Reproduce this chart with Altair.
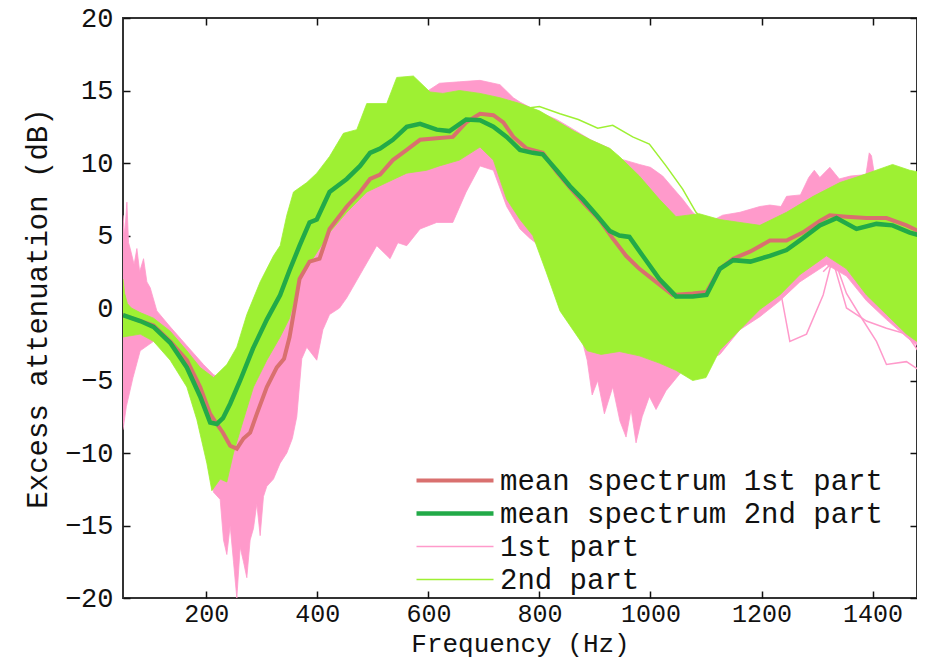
import altair as alt
import pandas as pd

# ---------------- data ----------------
# mean spectrum 1st part (red)
rm_f = [50, 105, 135, 165, 189, 207, 219, 230, 243, 255, 267, 279, 291, 309, 327, 340, 350, 368, 386, 404,
        422, 453, 477, 495, 513, 536, 561, 585, 615, 644, 668, 693, 717, 735, 753, 777, 806, 831, 855, 878,
        908, 932, 956, 980, 1010, 1040, 1076, 1101, 1125, 1149, 1180, 1215, 1245, 1274, 1305, 1323, 1353,
        1389, 1425, 1461, 1494]
rm_v = [-0.5, -1.2, -2.3, -3.6, -5.45, -7.3, -8.0, -8.6, -9.5, -9.7, -9.0, -8.6, -7.3, -5.45, -4.1, -3.5,
        -2.0, 2.0, 3.2, 3.4, 5.45, 7.0, 8.0, 8.9, 9.2, 10.2, 10.9, 11.6, 11.7, 11.8, 12.8, 13.4, 13.3, 12.8,
        11.8, 11.0, 10.7, 9.4, 8.3, 7.3, 6.1, 4.8, 3.6, 2.7, 1.8, 0.9, 1.0, 1.1, 2.7, 3.4, 3.9, 4.65, 4.65,
        5.2, 6.0, 6.4, 6.3, 6.2, 6.2, 5.7, 5.1]

# mean spectrum 2nd part (green)
gm_f = [50, 81, 105, 135, 165, 189, 207, 219, 230, 243, 261, 284, 309, 333, 350, 368, 386, 399, 422, 453,
        477, 495, 513, 536, 561, 585, 615, 638, 668, 693, 717, 741, 765, 788, 806, 831, 855, 878, 903, 927,
        944, 962, 986, 1016, 1046, 1076, 1101, 1125, 1149, 1180, 1215, 1245, 1274, 1305, 1335, 1371, 1407,
        1436, 1467, 1494]
gm_v = [-0.5, -0.9, -1.3, -2.4, -4.1, -6.1, -7.9, -8.0, -7.6, -6.6, -5.0, -2.8, -0.8, 0.9, 2.6, 4.3, 5.9,
        6.1, 8.0, 8.9, 9.8, 10.7, 11.0, 11.6, 12.5, 12.7, 12.3, 12.2, 13.0, 12.95, 12.5, 11.8, 10.9, 10.7,
        10.6, 9.5, 8.4, 7.5, 6.4, 5.3, 5.0, 4.9, 3.6, 2.0, 0.8, 0.8, 0.9, 2.7, 3.3, 3.2, 3.6, 4.0, 4.8, 5.7,
        6.2, 5.45, 5.8, 5.7, 5.2, 4.9]

# envelope of the individual 1st-part spectra (pink)
pu_f = [50, 53, 57, 60, 63, 70, 75, 80, 87, 93, 99, 111, 135, 165, 195, 213, 237, 255, 273, 300, 333, 360,
        400, 450, 500, 550, 600, 620, 656, 693, 729, 753, 765, 800, 831, 862, 892, 927, 944, 980, 1000, 1022,
        1040, 1058, 1076, 1088, 1110, 1130, 1161, 1197, 1215, 1235, 1245, 1270, 1285, 1295, 1305, 1323, 1340,
        1360, 1388, 1394, 1398, 1403, 1436, 1494]
pu_v = [6.4, 5.0, 7.3, 4.5, 4.1, 3.0, 4.1, 2.5, 3.4, 1.8, 1.4, -0.2, -1.3, -2.6, -3.9, -4.6, -5.0, -4.0,
        -2.0, 0.0, 2.5, 5.0, 7.5, 10.0, 11.5, 13.0, 15.0, 15.5, 15.6, 15.7, 15.4, 14.5, 14.2, 13.5, 13.0,
        12.3, 11.6, 11.0, 10.3, 9.9, 9.7, 9.1, 8.3, 7.5, 6.6, 6.2, 6.0, 6.4, 6.6, 7.0, 7.1, 7.0, 7.7, 7.8,
        9.0, 9.5, 9.0, 9.7, 8.9, 9.1, 9.2, 10.7, 10.5, 9.3, 9.4, 9.3]
pl_f = [50, 56, 68, 81, 105, 135, 165, 183, 201, 213, 225, 231, 237, 243, 249, 255, 261, 267, 273, 279,
        285, 291, 297, 303, 309, 321, 333, 345, 355, 363, 372, 381, 399, 410, 422, 440, 453, 483, 507, 531,
        545, 561, 585, 615, 644, 668, 693, 717, 741, 765, 783, 800, 825, 850, 874, 886, 895, 905, 917, 932,
        945, 956, 965, 974, 985, 998, 1010, 1028, 1058, 1088, 1125, 1161, 1197, 1233, 1269, 1317, 1353, 1389,
        1425, 1461, 1494]
pl_v = [-8.4, -6.8, -4.8, -2.95, -2.3, -3.3, -5.0, -7.2, -10.0, -12.7, -13.2, -16.0, -17.0, -15.0, -17.5,
        -20.0, -16.5, -17.5, -18.6, -16.0, -15.2, -13.5, -15.7, -13.0, -12.3, -11.8, -10.7, -10.0, -9.0,
        -7.5, -3.5, -2.7, -3.6, -1.5, -0.45, 0.0, 0.7, 2.7, 4.3, 3.4, 4.5, 4.3, 5.45, 5.9, 5.9, 8.0, 9.8,
        9.5, 7.0, 5.45, 4.8, 4.3, 1.6, -0.45, -1.8, -3.6, -6.0, -5.0, -7.3, -5.45, -7.8, -8.9, -7.0, -9.3,
        -7.5, -6.1, -7.0, -5.7, -4.3, -3.9, -3.2, -1.5, -0.6, 0.5, 1.8, 3.0, 2.2, 0.5, -0.8, -2.0, -3.0]

# envelope of the individual 2nd-part spectra (light green)
gu_f = [50, 53, 58, 65, 80, 105, 135, 165, 189, 213, 237, 255, 273, 297, 321, 333, 345, 357, 381, 399, 422,
        447, 471, 489, 525, 543, 573, 603, 626, 656, 693, 729, 765, 800, 831, 862, 892, 927, 944, 980, 1016,
        1046, 1088, 1125, 1161, 1197, 1245, 1293, 1341, 1377, 1436, 1467, 1494]
gu_v = [2.0, 1.0, 0.3, 0.0, -0.3, -0.7, -1.6, -2.95, -4.1, -4.8, -3.9, -2.7, -0.45, 1.8, 3.6, 4.3, 6.4,
        8.0, 8.65, 9.3, 10.45, 12.05, 12.3, 14.1, 14.1, 15.9, 16.0, 14.9, 14.8, 15.0, 14.8, 14.5, 14.1, 13.6,
        12.9, 12.2, 11.6, 11.0, 10.45, 9.1, 7.5, 6.3, 6.5, 6.1, 5.9, 5.7, 6.6, 7.7, 8.65, 9.1, 9.9, 9.5, 9.3]
gl_f = [50, 81, 105, 135, 165, 183, 201, 210, 225, 237, 249, 267, 285, 309, 333, 350, 368, 392, 422, 453,
        489, 525, 561, 597, 620, 656, 693, 717, 741, 765, 788, 812, 837, 862, 886, 911, 944, 980, 1016, 1046,
        1076, 1100, 1125, 1161, 1197, 1233, 1269, 1317, 1353, 1389, 1425, 1461, 1494]
gl_v = [-2.0, -1.8, -2.3, -3.6, -5.45, -7.7, -10.7, -12.6, -11.8, -12.0, -10.0, -7.7, -5.45, -3.6, -2.0,
        -0.7, 2.0, 3.4, 5.2, 6.6, 8.0, 8.65, 9.3, 9.5, 9.8, 10.2, 11.1, 10.2, 7.5, 6.1, 5.0, 2.5, -0.2,
        -1.6, -2.95, -3.2, -3.0, -3.3, -3.8, -4.3, -5.0, -4.8, -2.9, -1.5, -0.1, 0.9, 2.3, 3.6, 2.7, 0.9,
        -0.45, -1.8, -2.7]

# single spectra that stand out of the bands
pA_f = [1197, 1233, 1251, 1281, 1311, 1329, 1353, 1377, 1407, 1425, 1461, 1485, 1494]
pA_v = [0.5, 1.4, -2.3, -1.8, 0.9, 3.6, 1.0, -0.5, -2.3, -3.9, -3.7, -4.3, -6.3]
pB_f = [1311, 1329, 1353, 1389, 1425, 1461, 1494]
pB_v = [2.5, 3.2, 0.0, -0.9, -1.4, -1.8, -3.6]
gO_f = [780, 800, 837, 870, 905, 932, 968, 998, 1028, 1058, 1082, 1100]
gO_v = [13.8, 13.9, 13.4, 13.0, 12.4, 12.6, 11.8, 11.3, 9.8, 8.2, 6.6, 5.9]

SERIES = ["mean spectrum 1st part", "mean spectrum 2nd part", "1st part", "2nd part"]
COLORS = ["#d9706f", "#22aa48", "#ff9acb", "#9ef033"]
WIDTHS = [4, 4.5, 1.5, 1.5]
XT = [200, 400, 600, 800, 1000, 1200, 1400]
YT = [-20, -15, -10, -5, 0, 5, 10, 15, 20]


def band(f_hi, v_hi, f_lo, v_lo):
    rows = []
    for f, v in zip(f_hi, v_hi):
        rows.append({"f": f, "v": v, "idx": len(rows)})
    for f, v in zip(reversed(f_lo), reversed(v_lo)):
        rows.append({"f": f, "v": v, "idx": len(rows)})
    return pd.DataFrame(rows)


def line(f, v, series, lid):
    return pd.DataFrame({"f": f, "v": v, "series": series, "line": lid})


pink_band = band(pu_f, pu_v, pl_f, pl_v)
green_band = band(gu_f, gu_v, gl_f, gl_v)
pink_lines = pd.concat([line(pA_f, pA_v, "1st part", "a"), line(pB_f, pB_v, "1st part", "b")])
green_lines = line(gO_f, gO_v, "2nd part", "c")
mean1 = line(rm_f, rm_v, "mean spectrum 1st part", "m1")
mean2 = line(gm_f, gm_v, "mean spectrum 2nd part", "m2")

W, H = 794, 580
FONT = "Liberation Mono"
xscale = alt.Scale(domain=[50, 1480], nice=False, zero=False)
yscale = alt.Scale(domain=[-20, 20], nice=False, zero=False)

main_x = alt.Axis(orient="bottom", values=XT, format="d", ticks=False, tickSize=0, domain=False,
                  grid=False, labelFont=FONT, labelFontSize=25, labelPadding=3, labelColor="#111",
                  title="Frequency (Hz)", titleFont=FONT, titleFontSize=26, titleFontWeight="normal",
                  titlePadding=4, titleColor="#111")
main_y = alt.Axis(orient="left", values=YT, format="d", ticks=False, tickSize=0, domain=False, grid=False,
                  labelFont=FONT, labelFontSize=27, labelPadding=10, labelColor="#111",
                  title="Excess attenuation (dB)", titleFont=FONT, titleFontSize=29,
                  titleFontWeight="normal", titlePadding=12, titleColor="#111")


def tick_axis(orient, offset, values):
    return alt.Axis(orient=orient, offset=offset, values=values, labels=False, domain=False, grid=False,
                    ticks=True, tickSize=7, tickWidth=1.5, tickColor="#111", title=None)


legend = alt.Legend(orient="none", legendX=291, legendY=446, title=None, labelFont=FONT,
                    labelFontSize=29, labelColor="#111", symbolType="stroke", symbolSize=5929,
                    clipHeight=33, rowPadding=0, labelOffset=4, padding=0, labelLimit=0)
color = alt.Color("series:N", scale=alt.Scale(domain=SERIES, range=COLORS), legend=legend)
swidth = alt.StrokeWidth("series:N", scale=alt.Scale(type="ordinal", domain=SERIES, range=WIDTHS),
                         legend=legend)

pink_layer = alt.Chart(pink_band).mark_line(fill="#ff9acb", stroke="#ff9acb", strokeWidth=0.8,
                                            clip=True).encode(
    x=alt.X("f:Q", scale=xscale, axis=main_x),
    y=alt.Y("v:Q", scale=yscale, axis=main_y),
    order="idx:Q",
)
pink_line_layer = alt.Chart(pink_lines).mark_line(clip=True).encode(
    x=alt.X("f:Q", scale=xscale, axis=tick_axis("top", -H, XT)),
    y=alt.Y("v:Q", scale=yscale, axis=tick_axis("right", -W, YT)),
    color=color, strokeWidth=swidth, detail="line:N",
)
green_layer = alt.Chart(green_band).mark_line(fill="#9ef033", stroke="#9ef033", strokeWidth=0.8,
                                              clip=True).encode(
    x=alt.X("f:Q", scale=xscale, axis=tick_axis("bottom", -H, XT)),
    y=alt.Y("v:Q", scale=yscale, axis=tick_axis("left", -W, YT)),
    order="idx:Q",
)
green_line_layer = alt.Chart(green_lines).mark_line(clip=True).encode(
    x=alt.X("f:Q", scale=xscale, axis=None),
    y=alt.Y("v:Q", scale=yscale, axis=None),
    color=color, strokeWidth=swidth, detail="line:N",
)
mean1_layer = alt.Chart(mean1).mark_line(clip=True).encode(
    x=alt.X("f:Q", scale=xscale, axis=None),
    y=alt.Y("v:Q", scale=yscale, axis=None),
    color=color, strokeWidth=swidth,
)
mean2_layer = alt.Chart(mean2).mark_line(clip=True).encode(
    x=alt.X("f:Q", scale=xscale, axis=None),
    y=alt.Y("v:Q", scale=yscale, axis=None),
    color=color, strokeWidth=swidth,
)

chart = alt.layer(
    pink_layer, pink_line_layer, green_layer, green_line_layer, mean1_layer, mean2_layer
).resolve_axis(x="independent", y="independent").properties(
    width=W, height=H,
    autosize=alt.AutoSizeParams(type="none"),
    padding={"left": 115, "top": 10, "right": 0, "bottom": 61},
    background="white",
).configure_view(stroke="#333", strokeWidth=2)

chart.save("out.html", embed_options={"renderer": "svg", "actions": False})
